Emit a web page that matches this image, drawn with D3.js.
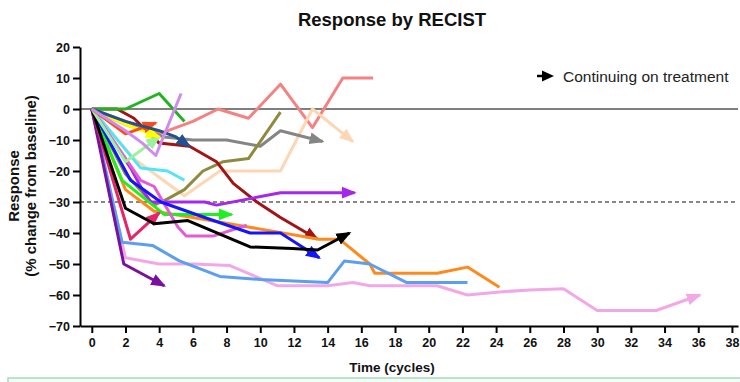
<!DOCTYPE html>
<html>
<head>
<meta charset="utf-8">
<script src="https://cdn.jsdelivr.net/npm/d3@7/dist/d3.min.js"></script>
<style>
  body { margin: 0; background: #fff; }
  svg { display: block; }
</style>
</head>
<body>
<svg id="chart" width="740" height="382"></svg>
<script>
// [cycle, % change from baseline]
const salmon = [[0, 0], [4, -8], [6, -4], [7.5, 0], [9.3, -3], [11.2, 8], [13.1, -6], [14.9, 10], [16.7, 10]];
const green = [[0, 0], [2, 0], [4, 5], [5.5, -4]];
const gray = [[0, 0], [2, -5], [4.3, -9], [6, -10], [8, -10], [10, -12], [11.2, -7], [13.7, -10.5]];
const olive = [[0, 0], [2, -21], [3.7, -31], [4.5, -29], [5.5, -26], [6.6, -20], [7.8, -17], [9.3, -16], [11.2, -1]];
const peach = [[0, 0], [2.5, -16], [4, -22], [5.5, -28], [7.6, -20], [11.2, -20], [13.1, 0], [15.5, -10.5]];
const maroon = [[0, 0], [1.5, 0], [2.5, -3], [4, -11], [5.8, -12], [7.4, -17], [8.4, -24], [9.8, -30], [11.2, -35], [13.4, -42]];
const purple = [[0, 0], [2.3, -19], [3, -26], [3.5, -30], [6.7, -30], [7.4, -31], [11.2, -27], [15.6, -27]];
const lime = [[0, 0], [1.8, -23], [4.3, -34], [6.7, -34], [8.3, -34]];
const orange = [[0, 0], [2, -26], [3.7, -33], [6, -35], [9.2, -38], [13.5, -42], [14.7, -42], [16.5, -50], [16.8, -53], [20.5, -53], [22.3, -51], [24.2, -57.5]];
const black = [[0, 0], [2, -32], [3.7, -37], [5.7, -36], [9.4, -44.5], [11.9, -45], [13.4, -45.5], [15.3, -40]];
const blue = [[0, 0], [1.6, -16], [2.3, -23], [4.1, -30], [6.7, -35], [9.4, -40], [11.2, -40], [13.5, -48]];
const pink = [[0, 0], [2.9, -23], [3.7, -25], [5.1, -38], [5.6, -41], [7.2, -41], [9.2, -37.5]];
const cyan = [[0, 0], [2.9, -19], [4.5, -20], [5.5, -23]];
const crimson = [[0, 0], [2.3, -42], [4, -33.5]];
const cornflower = [[0, 0], [1.8, -43], [3.6, -44], [5.2, -49], [7.6, -54], [10, -55], [14, -56], [15, -49], [16.5, -50], [18.7, -56], [22.3, -56]];
const plum = [[0, 0], [2, -48], [4, -50], [6, -50], [8.2, -50.5], [11, -57], [14, -57], [15.5, -56], [16.5, -57], [20.5, -57], [22.3, -60], [24.2, -59], [26, -58.4], [28, -58], [30, -65], [33.5, -65], [36.1, -60]];
const darkPurple = [[0, 0], [1.9, -50], [4.3, -57]];
const paleGreen = [[0, 0], [2, -17], [4, -9]];
const yellow = [[0, 0], [2, -5], [4, -9]];
const redOrange = [[0, 0], [2, -8], [3.8, -4.5]];
const navy = [[0, 0], [2, -4], [4, -7], [5, -9], [5.8, -12]];
const lavender = [[0, 0], [2, -7], [3, -11], [3.8, -15], [5.3, 5]];

// draw order, then which ones continue on treatment
const seriesOrder = ['salmon', 'peach', 'gray', 'olive', 'maroon', 'cyan', 'orange', 'plum', 'cornflower', 'darkPurple',
  'purple', 'lime', 'pink', 'crimson', 'blue', 'black', 'paleGreen', 'green', 'yellow', 'redOrange', 'navy', 'lavender'];
const continuing = ['gray', 'peach', 'maroon', 'purple', 'lime', 'black', 'blue', 'crimson', 'plum', 'darkPurple',
  'paleGreen', 'yellow', 'redOrange', 'navy'];
const seriesData = { salmon, green, gray, olive, peach, maroon, purple, lime, orange, black, blue, pink, cyan, crimson,
  cornflower, plum, darkPurple, paleGreen, yellow, redOrange, navy, lavender };

const xTicks = d3.range(0, 39, 2);
const yTicks = d3.range(-70, 21, 10);

const colors = {
  salmon: '#f48282', green: '#22b322', gray: '#858585', olive: '#8e8a3e', peach: '#fdd6b4', maroon: '#a11414',
  purple: '#a526ee', lime: '#1ef01e', orange: '#ff8a1c', black: '#000000', blue: '#1414ff', pink: '#e45cd2',
  cyan: '#52e6f2', crimson: '#e62468', cornflower: '#5c9ff0', plum: '#f2a8e6', darkPurple: '#7a0fa0',
  paleGreen: '#9cf29c', yellow: '#ffff00', redOrange: '#ff4a12', navy: '#23508e', lavender: '#d08cec'
};

const FONT = "'Liberation Sans', Arial, sans-serif";
const svg = d3.select('#chart');

const x = d3.scaleLinear().domain([-0.7, 38.36]).range([80, 738]);
const y = d3.scaleLinear().domain([-70, 20]).range([326, 47]);

// bottom note box, only its top edge shows
svg.append('rect')
  .attr('x', 8).attr('y', 378).attr('width', 740).attr('height', 30)
  .attr('fill', '#f3fbf6').attr('stroke', '#a6dcbd').attr('stroke-width', 1.5);

// title
svg.append('text')
  .attr('x', 392).attr('y', 26)
  .attr('text-anchor', 'middle')
  .attr('font-family', FONT).attr('font-weight', 'bold').attr('font-size', '18.5px')
  .attr('fill', '#111')
  .text('Response by RECIST');

// reference lines
svg.append('line')
  .attr('x1', x.range()[0]).attr('x2', x.range()[1])
  .attr('y1', y(0)).attr('y2', y(0))
  .attr('stroke', '#555').attr('stroke-width', 1.6);
svg.append('line')
  .attr('x1', x.range()[0]).attr('x2', x.range()[1])
  .attr('y1', y(-30)).attr('y2', y(-30))
  .attr('stroke', '#111').attr('stroke-width', 1.1).attr('stroke-dasharray', '4,3');

// arrow markers, one per colour
const defs = svg.append('defs');
continuing.forEach(name => {
  defs.append('marker')
    .attr('id', `arr-${name}`)
    .attr('markerUnits', 'userSpaceOnUse')
    .attr('viewBox', '0 -7 15 14')
    .attr('refX', 13).attr('refY', 0)
    .attr('markerWidth', 15).attr('markerHeight', 14)
    .attr('orient', 'auto')
    .append('path')
    .attr('d', 'M0,-6L15,0L0,6Z')
    .attr('fill', colors[name]);
});

const lineGen = d3.line().x(d => x(d[0])).y(d => y(d[1]));

seriesOrder.forEach(name => {
  svg.append('path')
    .datum(seriesData[name])
    .attr('fill', 'none')
    .attr('stroke', colors[name])
    .attr('stroke-width', 3)
    .attr('stroke-linejoin', 'round')
    .attr('d', lineGen)
    .attr('marker-end', continuing.includes(name) ? `url(#arr-${name})` : null);
});

// axes
const styleAxis = sel => {
  sel.select('.domain').attr('stroke', '#000').attr('stroke-width', 2);
  sel.selectAll('.tick line').attr('stroke', '#000').attr('stroke-width', 2);
  sel.selectAll('.tick text')
    .attr('font-family', FONT).attr('font-weight', 'bold').attr('font-size', '12.5px').attr('fill', '#111');
};

svg.append('g')
  .attr('transform', `translate(0,${y(-70)})`)
  .call(d3.axisBottom(x).tickValues(xTicks).tickSize(7).tickPadding(5).tickSizeOuter(0))
  .call(styleAxis);

svg.append('g')
  .attr('transform', `translate(${x.range()[0]},0)`)
  .call(d3.axisLeft(y).tickValues(yTicks).tickSize(7).tickPadding(3).tickSizeOuter(0))
  .call(styleAxis);

// axis titles
svg.append('text')
  .attr('x', 392).attr('y', 372)
  .attr('text-anchor', 'middle')
  .attr('font-family', FONT).attr('font-weight', 'bold').attr('font-size', '13.5px').attr('fill', '#111')
  .text('Time (cycles)');

const yTitle = svg.append('text')
  .attr('transform', 'translate(0,186) rotate(-90)')
  .attr('text-anchor', 'middle')
  .attr('font-family', FONT).attr('font-weight', 'bold').attr('font-size', '15px').attr('fill', '#111');
yTitle.append('tspan').attr('x', 0).attr('y', 19).text('Response');
yTitle.append('tspan').attr('x', 0).attr('y', 36).text('(% change from baseline)');

// legend
const lg = svg.append('g').attr('transform', 'translate(537,76)');
lg.append('line').attr('x1', 0).attr('x2', 6).attr('y1', 0).attr('y2', 0).attr('stroke', '#000').attr('stroke-width', 2.5);
lg.append('path').attr('d', 'M5,-5.5L17,0L5,5.5Z').attr('fill', '#000');
lg.append('text')
  .attr('x', 26).attr('y', 5.5)
  .attr('font-family', FONT).attr('font-size', '15.5px').attr('fill', '#222')
  .text('Continuing on treatment');
</script>
</body>
</html>
